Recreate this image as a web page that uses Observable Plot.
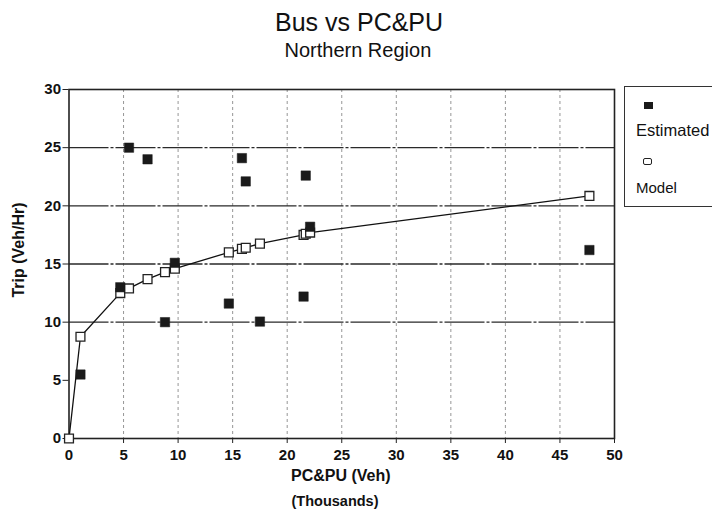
<!DOCTYPE html>
<html><head><meta charset="utf-8">
<script src="https://cdn.jsdelivr.net/npm/d3@7"></script>
<script src="https://cdn.jsdelivr.net/npm/@observablehq/plot@0.6"></script>
<style>
body{margin:0;background:#fff;font-family:"Liberation Sans",Arial,sans-serif;color:#111;}
#wrap{position:relative;width:712px;height:517px;overflow:hidden;background:#fff;}
.t{position:absolute;line-height:1;white-space:nowrap;}
#legend{position:absolute;left:624px;top:86px;width:110px;height:121px;border:1.5px solid #333;box-sizing:border-box;}
.sw{position:absolute;width:9px;height:7px;box-sizing:border-box;}
svg{position:absolute;left:0;top:0;}
</style></head>
<body><div id="wrap"></div>
<script>
const title = "Bus vs PC&PU";
const subtitle = "Northern Region";
const xLabel1 = "PC&PU (Veh)";
const xLabel2 = "(Thousands)";
const yLabel = "Trip (Veh/Hr)";
const seriesNames = ["Estimated", "Model"];
const xTicks = [0,5,10,15,20,25,30,35,40,45,50];
const yTicks = [0,5,10,15,20,25,30];
const hGrid = [10,15,20,25];
const vGrid = [5,10,15,20,25,30,35,40,45];
const estX = [1.05, 4.7, 5.5, 7.2, 8.8, 9.7, 14.65, 15.85, 16.2, 17.5, 21.5, 21.7, 22.1, 47.7];
const estY = [5.5, 13.0, 25.0, 24.0, 10.0, 15.1, 11.6, 24.1, 22.1, 10.05, 12.2, 22.6, 18.2, 16.2];
const modX = [0, 1.05, 4.7, 5.5, 7.2, 8.8, 9.7, 14.65, 15.85, 16.2, 17.5, 21.5, 21.7, 22.1, 47.7];
const modY = [0, 8.75, 12.5, 12.9, 13.7, 14.3, 14.6, 16.0, 16.3, 16.4, 16.75, 17.5, 17.6, 17.7, 20.85];

const est = estX.map((x,i)=>({x, y: estY[i]}));
const mod = modX.map((x,i)=>({x, y: modY[i]}));

const wrap = document.getElementById("wrap");
const chart = Plot.plot({
  width: 712, height: 517,
  marginTop: 89, marginBottom: 79, marginLeft: 68.5, marginRight: 98,
  style: {fontFamily: '"Liberation Sans", Arial, sans-serif', background: "transparent"},
  x: {domain: [0, 50], ticks: xTicks, label: null},
  y: {domain: [0, 30], ticks: yTicks, label: null},
  marks: [
    Plot.ruleX(vGrid, {stroke: "#8a8a8a", strokeWidth: 0.9, strokeDasharray: "3,3"}),
    Plot.ruleY(hGrid, {stroke: "#2a2a2a", strokeWidth: 1.4, strokeDasharray: "40,2,3,2"}),
    Plot.frame({stroke: "#222", strokeWidth: 1.6}),
    Plot.axisX({ticks: xTicks, tickSize: 5, tickPadding: 6, fontSize: 15, fontWeight: "bold", tickFormat: d => d, stroke: "#222", label: null}),
    Plot.axisY({ticks: yTicks, tickSize: 6, tickPadding: 2, fontSize: 15, fontWeight: "bold", tickFormat: d => d, stroke: "#222", label: null}),
    Plot.line(mod, {x: "x", y: "y", stroke: "#111", strokeWidth: 1.3}),
    Plot.dot(mod, {x: "x", y: "y", symbol: "square", r: 5, fill: "#fff", stroke: "#222", strokeWidth: 1.3}),
    Plot.dot(est, {x: "x", y: "y", symbol: "square", r: 5.3, fill: "#1a1a1a", stroke: "#1a1a1a", strokeWidth: 0.5})
  ]
});
wrap.appendChild(chart);

function addText(txt, {cx, left, baseline, size, weight = "normal", rotate = 0, cy}) {
  const d = document.createElement("div");
  d.className = "t";
  d.textContent = txt;
  d.style.fontSize = size + "px";
  d.style.fontWeight = weight;
  wrap.appendChild(d);
  const w = d.offsetWidth;
  if (rotate) {
    d.style.left = (cx - w / 2) + "px";
    d.style.top = (cy - size / 2) + "px";
    d.style.transform = `rotate(${rotate}deg)`;
  } else {
    d.style.left = (cx !== undefined ? cx - w / 2 : left) + "px";
    d.style.top = (baseline - 0.8465 * size) + "px";
  }
  return d;
}
addText(title, {cx: 359, baseline: 31, size: 25});
addText(subtitle, {cx: 358, baseline: 57, size: 20});
addText(xLabel1, {cx: 341, baseline: 482, size: 16, weight: "bold"});
addText(xLabel2, {cx: 335, baseline: 506, size: 14.5, weight: "bold"});
addText(yLabel, {cx: 18, cy: 250, size: 16, weight: "bold", rotate: -90});

const lg = document.createElement("div");
lg.id = "legend";
wrap.appendChild(lg);
const s1 = document.createElement("div"); s1.className = "sw";
Object.assign(s1.style, {left: "644px", top: "102px", background: "#1a1a1a"});
wrap.appendChild(s1);
const s2 = document.createElement("div"); s2.className = "sw";
Object.assign(s2.style, {left: "643px", top: "158px", border: "1.3px solid #222", borderRadius: "2px", background: "#fff"});
wrap.appendChild(s2);
addText(seriesNames[0], {left: 636, baseline: 136, size: 16.5});
addText(seriesNames[1], {left: 636, baseline: 193, size: 15});
</script></body></html>
